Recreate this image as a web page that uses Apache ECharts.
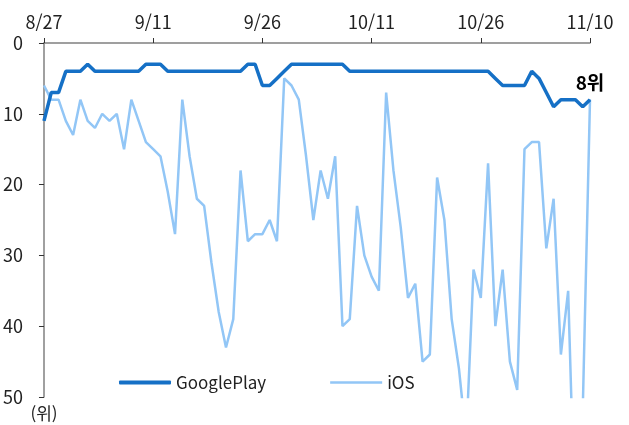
<!DOCTYPE html>
<html lang="ko">
<head>
<meta charset="utf-8" />
<title>GooglePlay / iOS 순위</title>
<script src="https://cdn.jsdelivr.net/npm/echarts@6/dist/echarts.min.js"></script>
<style>
  html, body { margin: 0; background: #fff; }
  #chart { width: 629px; height: 425px; }
</style>
</head>
<body>
<div id="chart"></div>
<script>
// dates 8/27 ~ 11/10
var dates = [
  '8/27','8/28','8/29','8/30','8/31',
  '9/1','9/2','9/3','9/4','9/5','9/6','9/7','9/8','9/9','9/10',
  '9/11','9/12','9/13','9/14','9/15','9/16','9/17','9/18','9/19','9/20',
  '9/21','9/22','9/23','9/24','9/25','9/26','9/27','9/28','9/29','9/30',
  '10/1','10/2','10/3','10/4','10/5','10/6','10/7','10/8','10/9','10/10',
  '10/11','10/12','10/13','10/14','10/15','10/16','10/17','10/18','10/19','10/20',
  '10/21','10/22','10/23','10/24','10/25','10/26','10/27','10/28','10/29','10/30',
  '10/31','11/1','11/2','11/3','11/4','11/5','11/6','11/7','11/8','11/9','11/10'
];

// rank (위)
var googlePlay = [
  11, 7, 7, 4, 4, 4, 3, 4, 4, 4,
  4, 4, 4, 4, 3, 3, 3, 4, 4, 4,
  4, 4, 4, 4, 4, 4, 4, 4, 3, 3,
  6, 6, 5, 4, 3, 3, 3, 3, 3, 3,
  3, 3, 4, 4, 4, 4, 4, 4, 4, 4,
  4, 4, 4, 4, 4, 4, 4, 4, 4, 4,
  4, 4, 5, 6, 6, 6, 6, 4, 5, 7,
  9, 8, 8, 8, 9, 8
];
var ios = [
  6, 8, 8, 11, 13, 8, 11, 12, 10, 11,
  10, 15, 8, 11, 14, 15, 16, 21, 27, 8,
  16, 22, 23, 31, 38, 43, 39, 18, 28, 27,
  27, 25, 28, 5, 6, 8, 16, 25, 18, 22,
  16, 40, 39, 23, 30, 33, 35, 7, 18, 26,
  36, 34, 45, 44, 19, 25, 39, 46, 56, 32,
  36, 17, 40, 32, 45, 49, 15, 14, 14, 29,
  22, 44, 35, 70, 52, 8
];

var font = "'Noto Sans CJK KR', 'Noto Sans', sans-serif";
var last = googlePlay.length - 1;
var gpColor = '#1570C6';

var chart = echarts.init(document.getElementById('chart'));
chart.setOption({
  animation: false,
  textStyle: { fontFamily: font },
  grid: { left: 43, right: 39, top: 43, bottom: 28 },
  legend: {
    left: 114,
    top: 369,
    itemWidth: 52,
    itemHeight: 4,
    itemGap: 64,
    textStyle: { fontSize: 17, color: '#222', fontFamily: font },
    data: [
      { name: 'GooglePlay', icon: 'roundRect' },
      { name: 'iOS', icon: 'path://M0,0.7H52V3.3H0Z' }
    ]
  },
  xAxis: {
    type: 'category',
    position: 'top',
    boundaryGap: false,
    data: dates,
    axisLine: { lineStyle: { color: '#808080', width: 1.5 } },
    axisTick: { interval: 14, length: 5, lineStyle: { color: '#333' } },
    axisLabel: { interval: 14, fontSize: 18, color: '#222', margin: 12 }
  },
  yAxis: {
    type: 'value',
    inverse: true,
    min: 0,
    max: 50,
    interval: 10,
    name: '(위)',
    nameLocation: 'end',
    nameGap: 8,
    nameTextStyle: { fontSize: 17, color: '#222', align: 'center' },
    splitLine: { show: false },
    axisLine: { show: true, lineStyle: { color: '#808080', width: 1.5 } },
    axisTick: { show: true, length: 5, lineStyle: { color: '#333' } },
    axisLabel: { fontSize: 18, color: '#222', margin: 21 }
  },
  series: [
    {
      name: 'iOS',
      type: 'line',
      data: ios,
      symbol: 'none',
      lineStyle: { color: '#92C6F6', width: 2.5 },
      itemStyle: { color: '#92C6F6' },
      z: 2
    },
    {
      name: 'GooglePlay',
      type: 'line',
      data: googlePlay.map(function (v, i) {
        if (i !== last) return v;
        return {
          value: v,
          symbol: 'circle',
          symbolSize: 1,
          label: {
            show: true,
            position: 'top',
            distance: 7,
            formatter: v + '위',
            fontSize: 19,
            fontWeight: 'bold',
            color: '#000'
          }
        };
      }),
      symbol: 'none',
      lineStyle: { color: gpColor, width: 3.5 },
      itemStyle: { color: gpColor },
      z: 3
    }
  ]
});
</script>
</body>
</html>
